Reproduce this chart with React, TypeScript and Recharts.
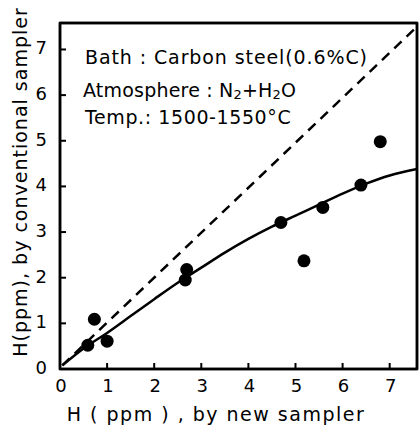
import React from "react";
import { ComposedChart, XAxis, YAxis, Line, Scatter, ReferenceArea, Customized } from "recharts";

const axisMax = 7.58;
const xTicks = [0, 1, 2, 3, 4, 5, 6, 7];
const yTicks = [0, 1, 2, 3, 4, 5, 6, 7];

// H by new sampler (x) vs H by conventional sampler (y)
const measured = [
  { x: 0.59, y: 0.52 },
  { x: 0.73, y: 1.09 },
  { x: 1.0, y: 0.61 },
  { x: 2.66, y: 1.95 },
  { x: 2.69, y: 2.18 },
  { x: 4.69, y: 3.21 },
  { x: 5.18, y: 2.37 },
  { x: 5.58, y: 3.54 },
  { x: 6.39, y: 4.03 },
  { x: 6.8, y: 4.98 },
];

const fitCurve = [
  { x: 0.05, y: 0.08 },
  { x: 0.5, y: 0.45 },
  { x: 1.0, y: 0.79 },
  { x: 1.5, y: 1.16 },
  { x: 2.0, y: 1.53 },
  { x: 2.5, y: 1.89 },
  { x: 3.0, y: 2.22 },
  { x: 3.5, y: 2.55 },
  { x: 4.0, y: 2.85 },
  { x: 4.5, y: 3.12 },
  { x: 5.0, y: 3.36 },
  { x: 5.5, y: 3.6 },
  { x: 6.0, y: 3.84 },
  { x: 6.5, y: 4.06 },
  { x: 7.0, y: 4.24 },
  { x: 7.58, y: 4.38 },
];

const equalLine = [
  { x: 0.05, y: 0.08 },
  { x: 7.58, y: 7.5 },
];

const FONT = "DejaVu Sans";

// tick marks point inwards; drawn as paths
const BottomTick = (p: any) => (
  <g>
    <path d={`M${p.x},${p.y}v-6`} stroke="#000" strokeWidth={2} fill="none" />
    <text x={p.x + 1} y={p.y + 23} textAnchor="middle" fontSize={18} fontFamily={FONT} fill="#000">
      {p.payload.value}
    </text>
  </g>
);

const TopTick = (p: any) => <path d={`M${p.x},${p.y}v6`} stroke="#000" strokeWidth={2} fill="none" />;

const LeftTick = (p: any) => (
  <g>
    <path d={`M${p.x},${p.y}h6`} stroke="#000" strokeWidth={2} fill="none" />
    <text x={p.x - 13} y={p.y + 5} textAnchor="end" fontSize={18} fontFamily={FONT} fill="#000">
      {p.payload.value}
    </text>
  </g>
);

const RightTick = (p: any) => <path d={`M${p.x},${p.y}h-6`} stroke="#000" strokeWidth={2} fill="none" />;

const Dot = (p: any) => <circle cx={p.cx} cy={p.cy} r={6.5} fill="#000" />;

const Notes = () => (
  <g fontFamily={FONT} fontSize={19} fill="#000">
    <text x={85} y={64} letterSpacing={0.9}>Bath : Carbon steel(0.6%C)</text>
    <text x={83} y={97} letterSpacing={0.2}>
      Atmosphere : N<tspan fontSize={13} dy={2}>2</tspan>
      <tspan dy={-2}>+H</tspan>
      <tspan fontSize={13} dy={2}>2</tspan>
      <tspan dy={-2}>O</tspan>
    </text>
    <text x={85} y={124} letterSpacing={0.6}>Temp.: 1500-1550°C</text>
    <text x={216} y={421} textAnchor="middle" letterSpacing={1.5}>
      H ( ppm ) ,  by  new  sampler
    </text>
    <text x={27} y={182} textAnchor="middle" letterSpacing={1} transform="rotate(-90 27 182)">
      H(ppm),  by conventional sampler
    </text>
  </g>
);

export default function App() {
  return (
    <div style={{ position: "absolute", left: 0, top: 0 }}>
      <ComposedChart width={419} height={432} margin={{ top: 22, right: 1, bottom: 0, left: 0 }}>
        <XAxis dataKey="x" type="number" domain={[0, axisMax]} ticks={xTicks} interval={0}
          height={63} tickSize={0} tickMargin={0} tick={BottomTick} stroke="#000" strokeWidth={2.5} />
        <XAxis xAxisId="top" orientation="top" type="number" domain={[0, axisMax]} ticks={xTicks} interval={0}
          height={1} tickSize={0} tickMargin={0} tick={TopTick} stroke="#000" strokeWidth={2.5} />
        <YAxis dataKey="y" type="number" domain={[0, axisMax]} ticks={yTicks} interval={0}
          width={60} tickSize={0} tickMargin={0} tick={LeftTick} stroke="#000" strokeWidth={2.5} />
        <YAxis yAxisId="right" orientation="right" type="number" domain={[0, axisMax]} ticks={yTicks} interval={0}
          width={1} tickSize={0} tickMargin={0} tick={RightTick} stroke="#000" strokeWidth={2.5} />
        <ReferenceArea x1={0} x2={axisMax} y1={0} y2={axisMax} fill="none" fillOpacity={0}
          stroke="#000" strokeWidth={2.5} />
        <Line data={equalLine} dataKey="y" type="linear" stroke="#000" strokeWidth={2.5}
          strokeDasharray="10 7" dot={false} isAnimationActive={false} />
        <Line data={fitCurve} dataKey="y" type="monotone" stroke="#000" strokeWidth={2.5}
          dot={false} isAnimationActive={false} />
        <Scatter data={measured} dataKey="y" shape={Dot} isAnimationActive={false} />
        <Customized component={Notes} />
      </ComposedChart>
    </div>
  );
}
